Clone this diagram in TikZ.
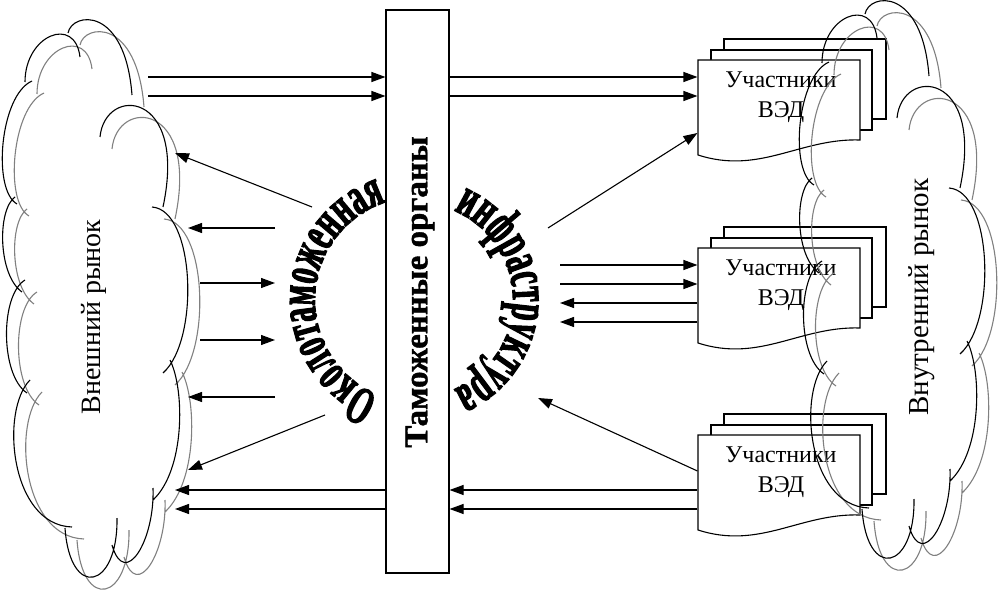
\documentclass[tikz,border=0pt]{standalone}
\usepackage{fontspec}
\setmainfont{Liberation Serif}
\newfontfamily\arcfont{Liberation Serif Bold}[FakeStretch=0.55,FakeBold=2]
\newfontfamily\custfont{Liberation Serif Bold}[FakeBold=1.2]
\usetikzlibrary{arrows.meta,decorations.text}
\tikzset{
  arr/.style={-{Triangle[length=14pt,width=10pt]}},
  boxtext/.style={align=center,inner sep=0pt,font=\fontsize{24}{30}\selectfont},
  cloudtext/.style={rotate=90,inner sep=0pt},
  graycloud/.style={draw=black!50},
}
\newcommand\cloudlobes{%
  (25,82) .. controls (25,35) and (75,15) .. (80,57)
  (68,33) .. controls (72,12) and (125,5) .. (132,95)
  (100,137) .. controls (105,85) and (188,90) .. (163,207)
  (152,207) .. controls (195,210) and (200,340) .. (163,373)
  (170,360) .. controls (185,390) and (185,470) .. (153,500)
  (153,488) .. controls (155,540) and (125,590) .. (112,545)
  (117,518) .. controls (118,590) and (70,600) .. (65,528)
  (30,380) .. controls (0,410) and (10,525) .. (72,527)
  (25,280) .. controls (0,295) and (0,375) .. (27,393)
  (15,197) .. controls (-3,210) and (-2,275) .. (22,292)
  (32,81) .. controls (0,95) and (-8,190) .. (17,204)}
\newcommand\vedgroup[2]{%
  \begin{scope}[shift={(0,#2)}]
    \draw[fill=white] (724,39) rectangle (886,119);
    \draw[fill=white] (711,50) rectangle (872,130);
    \draw[fill=white] (698,60) -- (860,60) -- (860,140)
      .. controls (800,138) and (760,175) .. (698,155) -- cycle;
    \node[minimum width=162pt,minimum height=95pt,inner sep=0pt] (#1f) at (779,107.5) {};
    \node[boxtext] (#1) at (781,97) {Участники\\ВЭД};
  \end{scope}}
\begin{document}
\begin{tikzpicture}[x=1pt,y=-1pt,line width=1.1pt]
\useasboundingbox (0,0) rectangle (1001,593);
% central box
\node[draw,fill=white,minimum width=63pt,minimum height=563pt,inner sep=0pt] (cust) at (417.5,291.5) {};
\node[rotate=90,inner sep=0pt,font=\custfont\fontsize{33}{33}\selectfont] (custtxt) at (420,292) {Таможенные органы};
% participant groups
\vedgroup{v1}{0}
\vedgroup{v2}{188}
\vedgroup{v3}{375}
% clouds
\draw[graycloud] [shift={(12,12)}] \cloudlobes;
\draw \cloudlobes;
\begin{scope}[shift={(797,-19)}]
\draw[graycloud] [shift={(12,12)}] \cloudlobes;
\draw \cloudlobes;
\end{scope}
\node[cloudtext,font=\fontsize{28}{30}\selectfont] (ext) at (94,317) {Внешний рынок};
\node[cloudtext,font=\fontsize{29}{30}\selectfont] (int) at (922,297) {Внутренний рынок};
% curved texts
\path[decorate,decoration={text along path,text align=center,
  text={|\arcfont\fontsize{54}{54}\selectfont|Околотаможенная}}]
  (418,300) ++(100:103) arc[start angle=100,end angle=264,radius=103];
\path[decorate,decoration={text along path,text align=center,
  text={|\arcfont\fontsize{55}{55}\selectfont|инфраструктура}}]
  (416,300) ++(-80:97) arc[start angle=-80,end angle=80,radius=97];
% coordinates
\coordinate (a1) at (148,77);  \coordinate (a2) at (148,96);
\coordinate (b3s) at (312,207); \coordinate (b3e) at (175,153);
\coordinate (b4s) at (275,228); \coordinate (b4e) at (188,228);
\coordinate (b5s) at (200,283); \coordinate (b5e) at (275,283);
\coordinate (b6s) at (200,340); \coordinate (b6e) at (275,340);
\coordinate (b7s) at (275,397); \coordinate (b7e) at (188,397);
\coordinate (b8s) at (325,415); \coordinate (b8e) at (188,470);
\coordinate (c9) at (175,490);  \coordinate (c10) at (175,509);
\coordinate (d13) at (548,228);
\coordinate (d14) at (560,265); \coordinate (d15) at (560,284);
\coordinate (d16) at (560,303); \coordinate (d17) at (560,322);
\coordinate (d18) at (538,398);
\coordinate (e18) at (697,471);
% arrows left
\draw[arr] (a1) -- (a1 -| cust.west);
\draw[arr] (a2) -- (a2 -| cust.west);
\draw[arr] (b3s) -- (b3e);
\draw[arr] (b4s) -- (b4e);
\draw[arr] (b5s) -- (b5e);
\draw[arr] (b6s) -- (b6e);
\draw[arr] (b7s) -- (b7e);
\draw[arr] (b8s) -- (b8e);
\draw[arr] (c9 -| cust.west) -- (c9);
\draw[arr] (c10 -| cust.west) -- (c10);
% arrows right
\draw[arr] (a1 -| cust.east) -- (a1 -| v1f.west);
\draw[arr] (a2 -| cust.east) -- (a2 -| v1f.west);
\draw[arr] (d13) -- (v1f.west |- 0,133);
\draw[arr] (d14) -- (d14 -| v2f.west);
\draw[arr] (d15) -- (d15 -| v2f.west);
\draw[arr] (d16 -| v2f.west) -- (d16);
\draw[arr] (d17 -| v2f.west) -- (d17);
\draw[arr] (e18 -| v3f.west) -- (d18);
\draw[arr] (c9 -| v3f.west) -- (c9 -| cust.east);
\draw[arr] (c10 -| v3f.west) -- (c10 -| cust.east);
\end{tikzpicture}
\end{document}
